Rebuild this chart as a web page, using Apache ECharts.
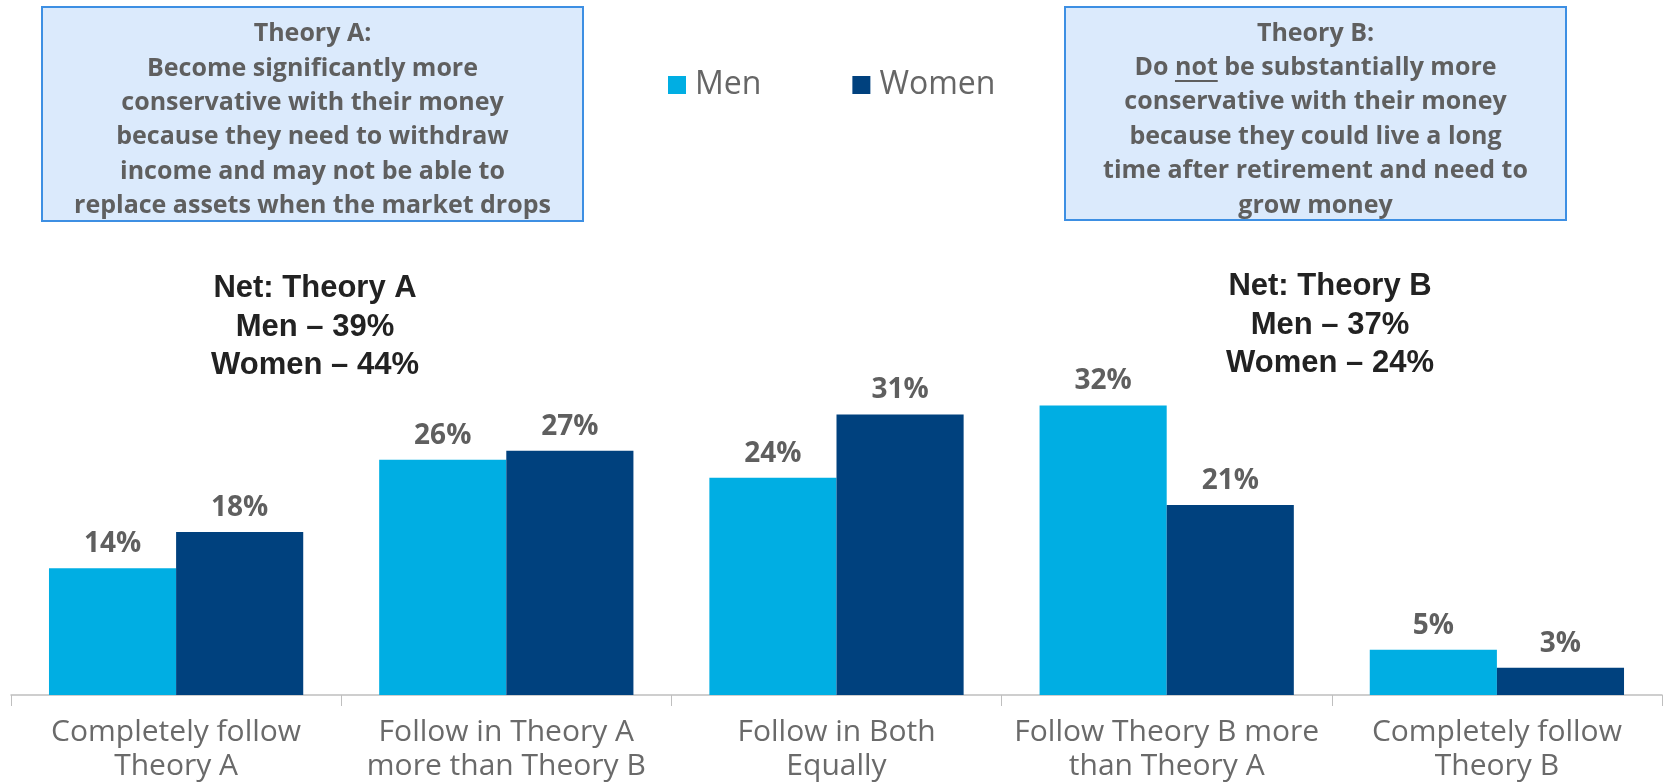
<!DOCTYPE HTML>
<html lang="en">
<head>
<meta charset="utf-8">
<title>Theory A vs Theory B</title>
<style>
html, body {
  margin: 0;
  background: #ffffff;
}
#chart {
  width: 1665px;
  height: 783px;
}
</style>
</head>
<body>
<div id="chart"></div>
<script src="https://cdn.jsdelivr.net/npm/echarts@6/dist/echarts.min.js"></script>
<script>
var categories = [
  'Completely follow\nTheory A',
  'Follow in Theory A\nmore than Theory B',
  'Follow in Both\nEqually',
  'Follow Theory B more\nthan Theory A',
  'Completely follow\nTheory B'
];
var menValues = [14, 26, 24, 32, 5];
var womenValues = [18, 27, 31, 21, 3];

var theoryA = [
  'Theory A:',
  'Become significantly more',
  'conservative with their money',
  'because they need to withdraw',
  'income and may not be able to',
  'replace assets when the market drops'
];
var theoryB = [
  'Theory B:',
  'Do not be substantially more',
  'conservative with their money',
  'because they could live a long',
  'time after retirement and need to',
  'grow money'
];
var netA = ['Net: Theory A', 'Men \u2013 39%', 'Women \u2013 44%'];
var netB = ['Net: Theory B', 'Men \u2013 37%', 'Women \u2013 24%'];

var boxFont = 'bold 25px "Open Sans", sans-serif';
var gray = '#5f5f5f';
var lh = 34.4;

function measure(text, font) {
  var ctx = document.createElement('canvas').getContext('2d');
  ctx.font = font;
  return ctx.measureText(text).width;
}

function box(x, y, w, h, lines) {
  return [{
    type: 'rect',
    shape: { x: x, y: y, width: w, height: h },
    style: { fill: '#dbeafc', stroke: '#3d8fe3', lineWidth: 2 }
  }, {
    type: 'text',
    x: x + w / 2,
    y: y + h / 2 + 6,
    style: {
      text: lines.join('\n'),
      font: boxFont,
      fill: gray,
      align: 'center',
      verticalAlign: 'middle',
      lineHeight: lh
    }
  }];
}

function net(cx, cy, lines) {
  return {
    type: 'text',
    x: cx,
    y: cy,
    style: {
      text: lines.join('\n'),
      font: 'bold 31px "Liberation Sans", Arial, sans-serif',
      fill: '#222222',
      align: 'center',
      verticalAlign: 'middle',
      lineHeight: 38.5
    }
  };
}

// underline under "not" in the Theory B box
var bx = 1065, by = 7, bw = 501, bh = 213;
var lineW = measure(theoryB[1], boxFont);
var startX = bx + bw / 2 - lineW / 2 + measure('Do ', boxFont);
var notW = measure('not', boxFont);
var underY = by + bh / 2 + 6 - 1.5 * lh + 13;
var underline = {
  type: 'line',
  shape: { x1: startX, y1: underY, x2: startX + notW, y2: underY },
  style: { stroke: gray, lineWidth: 2 }
};

var chart = echarts.init(document.getElementById('chart'));
chart.setOption({
  animation: false,
  textStyle: { fontFamily: '"Open Sans", sans-serif' },
  legend: {
    left: 663,
    top: 64,
    icon: 'rect',
    itemWidth: 18,
    itemHeight: 18,
    itemGap: 91,
    textStyle: { fontSize: 32, color: '#666666', padding: [0, 0, 0, 4] },
    data: ['Men', 'Women']
  },
  grid: {
    left: 11,
    right: 3,
    top: 333,
    bottom: 88,
    containLabel: false
  },
  xAxis: {
    type: 'category',
    data: categories,
    axisLine: { lineStyle: { color: '#bfbfbf', width: 1.5 } },
    axisTick: { show: true, length: 11, lineStyle: { color: '#bfbfbf' } },
    axisLabel: {
      fontSize: 30,
      color: '#6a6a6a',
      lineHeight: 34,
      margin: 20,
      interval: 0
    }
  },
  yAxis: {
    type: 'value',
    min: 0,
    max: 40,
    show: false
  },
  series: [{
    name: 'Men',
    type: 'bar',
    data: menValues,
    barGap: '0%',
    barCategoryGap: '23%',
    itemStyle: { color: '#00aee3' },
    label: {
      show: true,
      position: 'top',
      distance: 10,
      formatter: '{c}%',
      fontSize: 28,
      fontWeight: 'bold',
      color: gray
    }
  }, {
    name: 'Women',
    type: 'bar',
    data: womenValues,
    itemStyle: { color: '#00417e' },
    label: {
      show: true,
      position: 'top',
      distance: 10,
      formatter: '{c}%',
      fontSize: 28,
      fontWeight: 'bold',
      color: gray
    }
  }],
  graphic: box(42, 7, 541, 214, theoryA)
    .concat(box(bx, by, bw, bh, theoryB))
    .concat([underline, net(315, 327, netA), net(1330, 325, netB)])
});
</script>
</body>
</html>
